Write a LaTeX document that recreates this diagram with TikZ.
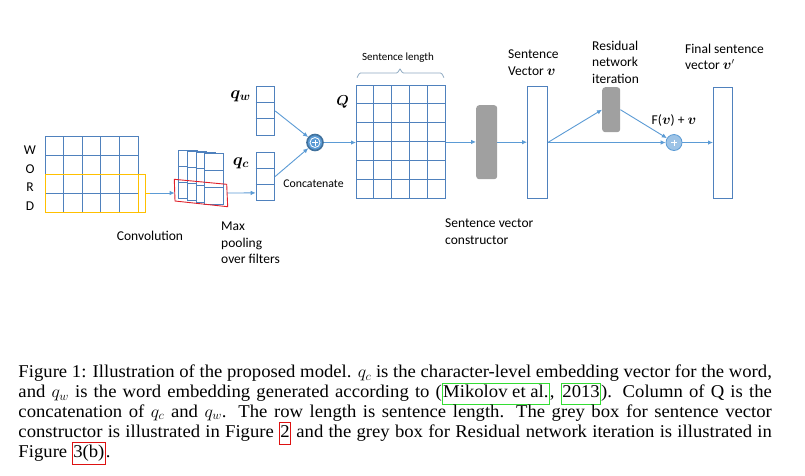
\documentclass[tikz,border=0pt]{standalone}
\usepackage{fontspec}
\usepackage{bm}
\usepackage{graphicx}
\usetikzlibrary{arrows.meta,calc}
\setmainfont{Liberation Serif}
\newfontfamily\lab{Carlito}
\definecolor{gridblue}{HTML}{4F81BD}
\definecolor{arrblue}{HTML}{5B9BD5}
\definecolor{ringblue}{HTML}{41719C}
\definecolor{lightblue}{HTML}{9DC3E6}
\definecolor{yel}{HTML}{FFC000}
\definecolor{redq}{HTML}{E0202A}
\definecolor{greybox}{HTML}{A0A0A0}
\definecolor{bracecol}{HTML}{8EA9C1}
\definecolor{linkgreen}{HTML}{33DD33}
\definecolor{linkred}{HTML}{DD1111}
\newlength\LA\newlength\LB\newlength\LC\newlength\LD
\newcommand\capfont{\fontsize{18}{20}\selectfont}
\newcommand\gbox[1]{{\fboxsep=0.6pt\fboxrule=0.7pt\textcolor{linkgreen}{\fbox{\textcolor{black}{\rule[-0.33em]{0pt}{1.08em}#1}}}}}
\newcommand\rbox[1]{{\fboxsep=0.6pt\fboxrule=0.7pt\textcolor{linkred}{\fbox{\textcolor{black}{\rule[-0.33em]{0pt}{1.08em}#1}}}}}
\newcommand\LineA{Figure 1: Illustration of the proposed model. $q_c$ is the character-level embedding vector for the word,}
\newcommand\LineB{and $q_w$ is the word embedding generated according to (\gbox{Mikolov et al.}, \gbox{2013}). Column of Q is the}
\newcommand\LineC{concatenation of $q_c$ and $q_w$. The row length is sentence length. The grey box for sentence vector}
\newcommand\LineD{constructor is illustrated in Figure \rbox{2} and the grey box for Residual network iteration is illustrated in}
\AtBeginDocument{%
\settowidth\LA{\capfont\LineA}%
\settowidth\LB{\capfont\LineB}%
\settowidth\LC{\capfont\LineC}%
\settowidth\LD{\capfont\LineD}%
\pgfmathsetmacro\Lmax{max(\LA,\LB,\LC,\LD)}%
\pgfmathsetmacro\sx{753.4/\Lmax}%
}
\tikzset{
  lbl/.style={font=\lab\fontsize{13.5}{16.5}\selectfont, inner sep=0pt},
  gridbox/.style={draw=gridblue, line width=0.9pt, fill=white, inner sep=0pt, anchor=north west},
  gline/.style={gridblue, line width=0.9pt},
  conn/.style={arrblue, line width=0.9pt},
  arr/.style={conn, -{Latex[length=5pt,width=4.5pt]}},
  greyblk/.style={fill=greybox, draw=none, rounded corners=3pt, inner sep=0pt, anchor=north west},
  capline/.style={anchor=base west, inner sep=0pt},
}
\begin{document}
\begin{tikzpicture}[x=1pt,y=-1pt]
\useasboundingbox (0,0) rectangle (805,475);
\fill[white] (0,0) rectangle (805,475);
% ---------- WORD matrix ----------
\node[lbl] (lw) at (30,150) {W};
\node[lbl] (lo) at (30,169) {O};
\node[lbl] (lr) at (30,187) {R};
\node[lbl] (ld) at (30,206) {D};
\node[gridbox, minimum width=93pt, minimum height=76pt] (word) at (45,136) {};
\foreach \i in {1,...,4} \draw[gline] (45+18.6*\i,136) -- (45+18.6*\i,212);
\foreach \j in {1,2,3} \draw[gline] (45,136+19*\j) -- (138,136+19*\j);
\draw[yel, line width=0.9pt] (45,174) rectangle (138,212);
\draw[yel, line width=0.9pt] (138,174) -- (145,174) -- (145,212) -- (138,212);
\draw[yel, line width=0.9pt] (145,193) -- (150,193);
\coordinate (ytick) at (150,193);
\node[lbl] (conv) at (150,236) {Convolution};
% ---------- filter cards ----------
\foreach \i in {0,...,3}{
  \pgfmathsetmacro\xa{178.3+8.6*\i}
  \pgfmathsetmacro\ta{150+1.1*\i}
  \pgfmathsetmacro\ba{198+2*\i}
  \pgfmathsetmacro\ha{(\ba-\ta)}
  \node[gridbox, minimum width=19pt, minimum height=\ha pt] (card\i) at (\xa,\ta) {};
  \draw[gline] (\xa,\ta+\ha/3) -- (\xa+19,\ta+\ha/3);
  \draw[gline] (\xa,\ta+2*\ha/3) -- (\xa+19,\ta+2*\ha/3);
}
\draw[redq, line width=0.9pt] (174.3,179.3) coordinate (r1) -- (226.7,184.3) coordinate (r2)
   -- (227.7,206.7) coordinate (r3) -- (175,201) coordinate (r4) -- cycle;
\coordinate (redL) at (174.6,193);
\coordinate (redR) at (227.3,193);
\draw[arr] (ytick) -- (redL);
\node[lbl, anchor=north west, align=left] (maxp) at (221,222) {Max\\pooling\\over filters};
% ---------- q_w and q_c ----------
\node[gridbox, minimum width=18.6pt, minimum height=49pt] (qw) at (255.7,86) {};
\draw[gline] (255.7,102.3) -- (274.3,102.3);
\draw[gline] (255.7,118.7) -- (274.3,118.7);
\node[gridbox, minimum width=18.6pt, minimum height=48pt] (qc) at (255.7,152) {};
\draw[gline] (255.7,168) -- (274.3,168);
\draw[gline] (255.7,184) -- (274.3,184);
\node[inner sep=0pt, font=\fontsize{16.5}{19}\selectfont] (qwl) at (240.5,96) {$\bm{q_w}$};
\node[inner sep=0pt, font=\fontsize{16.5}{19}\selectfont] (qcl) at (241,163) {$\bm{q_c}$};
\draw[arr] (redR) -- ($(qc.south west)+(0,-8)$);
% ---------- concatenate ----------
\node[circle, fill=arrblue, draw=ringblue, line width=1.6pt, minimum size=16pt, inner sep=0pt] (plus1) at (315,142.5) {};
\draw[white, line width=0.8pt] (plus1.center) circle (5);
\draw[white, line width=1pt] ($(plus1.center)+(-3,0)$) -- ($(plus1.center)+(3,0)$);
\draw[white, line width=1pt] ($(plus1.center)+(0,-3)$) -- ($(plus1.center)+(0,3)$);
\draw[arr] (qw.east) -- (plus1);
\draw[arr] (qc.east) -- (plus1);
\node[lbl, font=\lab\fontsize{11.8}{14}\selectfont] (concat) at (313.5,184) {Concatenate};
% ---------- Q matrix ----------
\node[gridbox, minimum width=89pt, minimum height=113pt] (Q) at (356,85) {};
\foreach \i in {1,...,4} \draw[gline] (356+17.8*\i,85) -- (356+17.8*\i,198);
\foreach \j in {1,...,5} \draw[gline] (356,85+18.83*\j) -- (445,85+18.83*\j);
\node[inner sep=0pt, font=\fontsize{15}{18}\selectfont] (Ql) at (342.5,102) {$\bm{Q}$};
\draw[bracecol, line width=0.8pt] (357,77) to[out=-90,in=180] (360.5,73) -- (396.5,73)
   to[out=0,in=90] (400,69.5) to[out=90,in=180] (403.5,73) -- (440.5,73) to[out=0,in=-90] (444,77);
\node[lbl, font=\lab\fontsize{11}{13}\selectfont, anchor=base] (slen) at (398,60.5) {Sentence length};
\draw[arr] (plus1.east) -- (Q.west |- plus1.east);
% ---------- sentence vector constructor ----------
\node[greyblk, minimum width=21pt, minimum height=74pt] (svc) at (476,105) {};
\draw[arr] (Q.east) -- (svc.west |- Q.east);
\node[lbl, anchor=north west, align=left] (svcl) at (445,219) {Sentence vector\\constructor};
% ---------- sentence vector v ----------
\node[gridbox, minimum width=20pt, minimum height=112pt] (vec) at (527,86) {};
\draw[arr] (svc.east) -- (vec.west |- svc.east);
\node[lbl, anchor=north west, align=left] (vecl) at (508,50) {Sentence\\Vector $\bm{v}$};
% ---------- residual ----------
\node[greyblk, minimum width=18pt, minimum height=45pt] (res) at (602,87) {};
\node[lbl, anchor=north west, align=left] (resl) at (592,40.5) {Residual\\network\\iteration};
\node[circle, fill=lightblue, draw=arrblue, line width=0.8pt, minimum size=16pt, inner sep=0pt] (plus2) at (674,142.5) {};
\draw[white, line width=1pt] ($(plus2.center)+(-3,0)$) -- ($(plus2.center)+(3,0)$);
\draw[white, line width=1pt] ($(plus2.center)+(0,-3)$) -- ($(plus2.center)+(0,3)$);
\draw[arr] (vec.east) -- (res.west);
\draw[arr] (vec.east |- plus2.west) -- (plus2.west);
\draw[arr] (res.east) -- (plus2);
\node[lbl] (fvl) at (674,120) {F($\bm{v}$) + $\bm{v}$};
% ---------- final vector ----------
\node[gridbox, minimum width=19pt, minimum height=111pt] (fin) at (713,87) {};
\draw[arr] (plus2.east) -- (fin.west |- plus2.east);
\node[lbl, anchor=north west, align=left] (finl) at (685,43.5) {Final sentence\\vector $\bm{v}'$};
% ---------- caption ----------
\node[capline] (cap1) at (18.3,377.5) {\scalebox{\sx}[1]{\hbox to \Lmax pt{\capfont\LineA}}};
\node[capline] (cap2) at (18.3,397.4) {\scalebox{\sx}[1]{\hbox to \Lmax pt{\capfont\LineB}}};
\node[capline] (cap3) at (18.3,417.3) {\scalebox{\sx}[1]{\hbox to \Lmax pt{\capfont\LineC}}};
\node[capline] (cap4) at (18.3,437.2) {\scalebox{\sx}[1]{\hbox to \Lmax pt{\capfont\LineD}}};
\node[capline] (cap5) at (18.3,457.1) {\scalebox{\sx}[1]{\capfont Figure \rbox{3(b)}.}};
\end{tikzpicture}
\end{document}
